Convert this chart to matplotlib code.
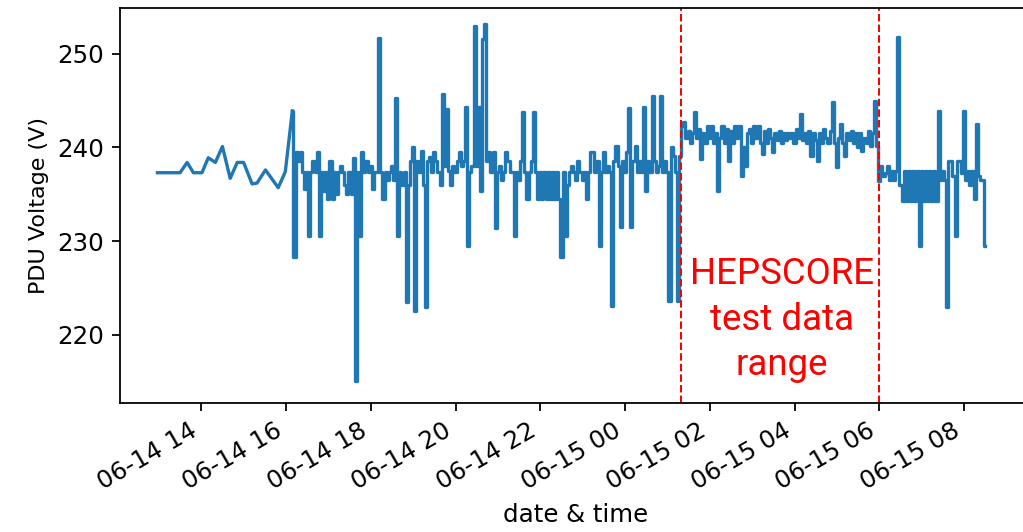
import matplotlib
matplotlib.use('Agg')
import matplotlib.pyplot as plt
import matplotlib.dates as mdates
import numpy as np
import pandas as pd

# sparse readings before the logger went to 3 min sampling
early_times = ['2024-06-14 12:58', '2024-06-14 13:30', '2024-06-14 13:40', '2024-06-14 13:49',
               '2024-06-14 14:01', '2024-06-14 14:10', '2024-06-14 14:20', '2024-06-14 14:30',
               '2024-06-14 14:41', '2024-06-14 14:51', '2024-06-14 15:00', '2024-06-14 15:12',
               '2024-06-14 15:19', '2024-06-14 15:31', '2024-06-14 15:49', '2024-06-14 15:59']
early_volts = [237.3, 237.3, 238.4, 237.3, 237.3, 238.9, 238.4, 240.1,
               236.7, 238.4, 238.4, 236.1, 236.2, 237.6, 235.7, 237.4]

# 3 min readings, one row per hour starting 06-14 16:09
dense_start = '2024-06-14 16:09'
dense_volts = [
    243.9, 228.3, 239.5, 238.5, 239.5, 237.4, 235.6, 237.4, 230.5, 237.4, 238.5, 237.4, 239.5, 230.5, 237.4, 235.4, 237.4, 234.5, 238.5, 234.5,
    237.4, 235.0, 237.4, 238.0, 237.4, 236.0, 235.0, 237.4, 235.0, 238.9, 215.0, 237.4, 230.5, 239.5, 237.4, 238.5, 237.4, 238.0, 235.6, 237.4,
    237.4, 251.7, 237.4, 234.5, 237.4, 236.5, 237.4, 238.0, 236.5, 245.3, 230.5, 237.4, 236.0, 237.4, 223.5, 236.0, 238.5, 240.0, 222.5, 238.5,
    237.4, 239.6, 236.0, 223.0, 238.5, 239.0, 237.4, 239.5, 238.5, 237.4, 236.0, 245.7, 238.0, 244.1, 237.5, 236.0, 238.0, 237.4, 238.5, 239.5,
    238.0, 238.5, 244.3, 229.5, 237.4, 238.0, 253.0, 238.0, 244.3, 235.4, 251.6, 253.2, 238.5, 239.5, 237.4, 239.5, 231.4, 237.4, 238.0, 236.5,
    237.4, 239.5, 238.5, 237.4, 237.4, 230.5, 237.4, 236.5, 238.5, 243.8, 237.4, 234.5, 237.4, 238.5, 243.8, 237.4, 234.5, 237.4, 234.5, 237.4,
    234.5, 237.4, 234.5, 237.4, 234.5, 237.4, 234.5, 228.3, 237.4, 230.5, 236.0, 237.4, 238.0, 237.4, 236.5, 238.5, 237.4, 236.5, 237.4, 234.5,
    237.4, 239.5, 239.5, 237.4, 238.5, 229.5, 237.4, 239.5, 237.4, 238.0, 237.4, 223.1, 238.5, 240.2, 238.0, 231.5, 238.5, 237.4, 239.5, 244.2,
    231.5, 238.5, 240.2, 237.4, 238.5, 237.4, 244.3, 235.4, 238.5, 237.4, 245.5, 238.5, 237.4, 238.0, 245.5, 237.4, 238.5, 237.4, 223.6, 240.0,
    239.1, 237.4, 223.6, 239.1, 242.3, 242.7, 241.0, 241.8, 240.5, 241.5, 243.8, 241.0, 242.0, 238.8, 241.5, 240.5, 242.3, 241.0, 242.3, 240.5,
    241.5, 235.4, 241.0, 242.3, 240.5, 242.0, 238.5, 241.8, 240.5, 242.3, 241.0, 242.3, 236.9, 240.0, 238.0, 241.5, 242.0, 240.5, 242.3, 241.0,
    242.3, 240.5, 239.3, 241.8, 240.5, 242.0, 241.0, 239.5, 241.5, 240.8, 241.8, 240.5, 241.5, 240.8, 241.5, 241.0, 241.5, 240.5, 242.0, 241.0,
    243.6, 240.8, 241.5, 240.5, 241.8, 239.1, 241.5, 240.8, 238.5, 241.5, 240.5, 242.0, 241.0, 240.5, 241.8, 244.9, 240.5, 237.9, 241.0, 242.5,
    240.5, 239.1, 241.5, 240.8, 241.8, 240.5, 241.5, 240.0, 241.5, 239.6, 241.0, 240.5, 241.8, 240.2, 241.5, 245.0, 240.2, 236.4, 238.0, 237.0,
    237.3, 238.0, 236.5, 237.5, 236.5, 237.5, 251.8, 236.0, 234.3, 237.5, 234.3, 237.5, 234.3, 237.5, 234.3, 237.5, 229.5, 237.5, 234.3, 237.5,
    234.3, 237.5, 234.3, 237.5, 234.3, 243.9, 236.5, 237.5, 236.5, 223.0, 238.5, 238.5, 237.0, 230.5, 238.5, 238.5, 237.3, 243.9, 236.5, 237.5,
    236.0, 237.5, 234.5, 242.5, 237.0, 236.5, 236.5, 229.5,
]

hep_start = '2024-06-15 01:19'
hep_end = '2024-06-15 06:00'
hep_label = 'HEPSCORE\ntest data\nrange'
hep_label_pos = ('2024-06-15 03:42', 221.6)

t_early = pd.to_datetime(early_times)
t_dense = pd.date_range(dense_start, periods=len(dense_volts), freq='3min')

fig = plt.figure(figsize=(1023 / 160, 532 / 160), dpi=160)
ax = fig.add_axes([0.1173, 0.2425, 0.89, 0.7425])
# sparse part joined point to point, the logged part held between samples
ax.plot(t_early.append(t_dense[:1]), early_volts + dense_volts[:1], color='C0')
ax.plot(t_dense, dense_volts, color='C0', drawstyle='steps-mid')
ax.axvline(pd.Timestamp(hep_start), color='red', linestyle='--', linewidth=0.9)
ax.axvline(pd.Timestamp(hep_end), color='red', linestyle='--', linewidth=0.9)
ax.text(pd.Timestamp(hep_label_pos[0]), hep_label_pos[1], hep_label, color='red',
        ha='center', va='center', fontsize=16.5, family=['Roboto', 'DejaVu Sans'],
        linespacing=1.35)

ax.set_xlim(pd.Timestamp('2024-06-14 12:05'), pd.Timestamp('2024-06-15 09:34'))
ax.set_ylim(212.7, 254.9)
ax.set_yticks([220, 230, 240, 250])
ax.spines['right'].set_visible(False)
ax.xaxis.set_major_locator(mdates.HourLocator(byhour=range(0, 24, 2)))
ax.xaxis.set_major_formatter(mdates.DateFormatter('%m-%d %H'))
ax.tick_params(labelsize=11)
plt.setp(ax.get_xticklabels(), rotation=30, ha='right')
ax.set_xlabel('date & time', fontsize=11)
ax.set_ylabel('PDU Voltage (V)')

fig.savefig('out.png', dpi=160)
